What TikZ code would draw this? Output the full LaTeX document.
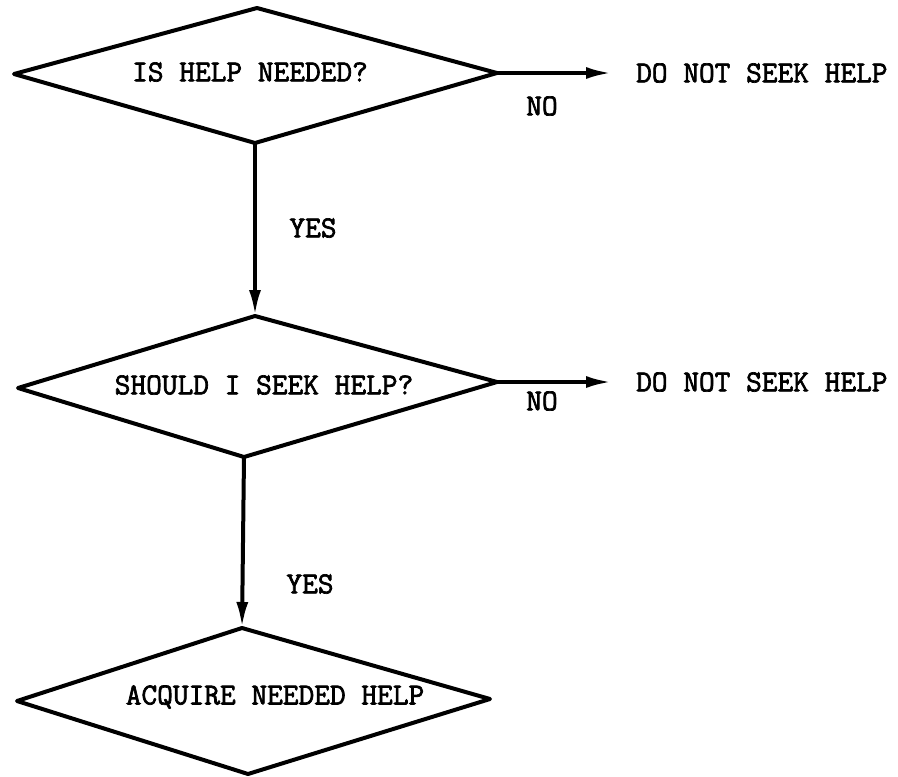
\documentclass[tikz,border=0pt]{standalone}
\usepackage{fontspec}
\newfontfamily\typewriter{Latin Modern Mono}[FakeBold=2.2]
\usetikzlibrary{arrows.meta}
\begin{document}
\begin{tikzpicture}[x=1pt,y=-1pt,
  dia/.style={draw, line width=4pt, line join=round},
  txt/.style={font=\fontsize{30.5}{34}\selectfont\typewriter, inner sep=0pt},
  conn/.style={line width=4pt, -{Latex[length=26pt,width=12pt]}}
]
\fill[white] (0,0) rectangle (898,777);
\useasboundingbox (0,0) rectangle (898,777);

% diamond vertices
\coordinate (d1l) at (14,74);  \coordinate (d1t) at (257,8);
\coordinate (d1r) at (497,73); \coordinate (d1b) at (255,143);
\coordinate (d2l) at (18,388); \coordinate (d2t) at (255,316);
\coordinate (d2r) at (497,382); \coordinate (d2b) at (244,457);
\coordinate (d3l) at (17,701); \coordinate (d3t) at (242,628);
\coordinate (d3r) at (490,699); \coordinate (d3b) at (248,774);

\draw[dia] (d1l) -- (d1t) -- (d1r) -- (d1b) -- cycle;
\draw[dia] (d2l) -- (d2t) -- (d2r) -- (d2b) -- cycle;
\draw[dia] (d3l) -- (d3t) -- (d3r) -- (d3b) -- cycle;

\node[txt] (t1) at (250,72) {IS HELP NEEDED?};
\node[txt] (t2) at (264,385) {SHOULD I SEEK HELP?};
\node[txt] (t3) at (275,697) {ACQUIRE NEEDED HELP};

\node[txt, anchor=west, inner xsep=24pt] (n1) at (612,73) {DO NOT SEEK HELP};
\node[txt, anchor=west, inner xsep=24pt] (n2) at (612,382) {DO NOT SEEK HELP};

\draw[conn] (d1r) -- (d1r -| n1.west);
\draw[conn] (d2r) -- (d2r -| n2.west);
\draw[conn] (d1b) -- (d1b |- d2t);
\draw[conn] (d2b) -- (d3t);

\node[txt] (no1) at (542,106) {NO};
\node[txt] (no2) at (542,401) {NO};
\node[txt] (y1) at (313,228) {YES};
\node[txt] (y2) at (310,584) {YES};
\end{tikzpicture}
\end{document}
